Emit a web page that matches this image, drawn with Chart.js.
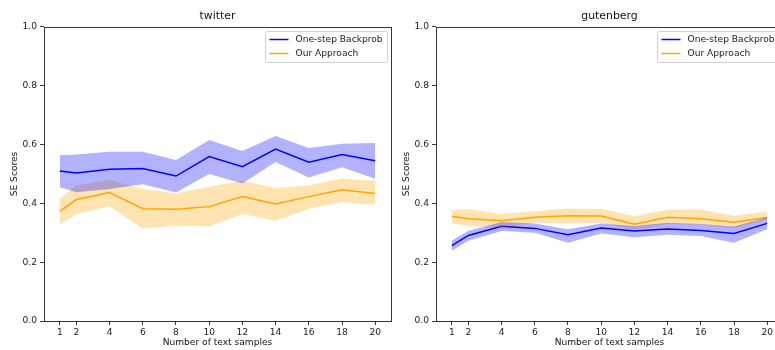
<!DOCTYPE html>
<html>
<head>
<meta charset="utf-8">
<script src="https://cdn.jsdelivr.net/npm/chart.js@4.4.1/dist/chart.umd.min.js"></script>
<style>
  html, body { margin: 0; padding: 0; background: #fff; overflow: hidden; width: 775px; height: 350px; }
  .panel { position: absolute; top: 0; width: 400px; height: 350px; }
  #leftPanel { left: 0; }
  #rightPanel { left: 392px; }
  canvas { display: block; }
</style>
</head>
<body>
<div class="panel" id="leftPanel"><canvas id="twitterChart" width="400" height="350"></canvas></div>
<div class="panel" id="rightPanel"><canvas id="gutenbergChart" width="400" height="350"></canvas></div>
<script>
// Number of text samples on the x axis
const xSamples = [1, 2, 4, 6, 8, 10, 12, 14, 16, 18, 20];
const yTicks = [0, 0.2, 0.4, 0.6, 0.8, 1.0];

// twitter: One-step Backprob (mean and band)
const twBackpropMean = [0.510, 0.503, 0.516, 0.519, 0.493, 0.559, 0.525, 0.585, 0.540, 0.566, 0.545];
const twBackpropHigh = [0.564, 0.566, 0.576, 0.576, 0.548, 0.616, 0.578, 0.629, 0.588, 0.603, 0.605];
const twBackpropLow  = [0.455, 0.438, 0.449, 0.465, 0.437, 0.500, 0.468, 0.541, 0.488, 0.523, 0.484];
// twitter: Our Approach
const twOursMean = [0.373, 0.413, 0.437, 0.382, 0.380, 0.389, 0.423, 0.398, 0.423, 0.446, 0.434];
const twOursHigh = [0.416, 0.460, 0.480, 0.448, 0.434, 0.457, 0.477, 0.452, 0.461, 0.485, 0.476];
const twOursLow  = [0.328, 0.363, 0.390, 0.315, 0.324, 0.321, 0.364, 0.341, 0.382, 0.405, 0.396];

// gutenberg: One-step Backprob
const gbBackpropMean = [0.256, 0.291, 0.322, 0.315, 0.293, 0.316, 0.306, 0.313, 0.308, 0.298, 0.332];
const gbBackpropHigh = [0.273, 0.307, 0.337, 0.332, 0.312, 0.332, 0.323, 0.334, 0.330, 0.321, 0.353];
const gbBackpropLow  = [0.239, 0.273, 0.306, 0.300, 0.266, 0.298, 0.285, 0.293, 0.289, 0.266, 0.312];
// gutenberg: Our Approach
const gbOursMean = [0.356, 0.348, 0.341, 0.353, 0.358, 0.357, 0.329, 0.353, 0.348, 0.336, 0.352];
const gbOursHigh = [0.378, 0.380, 0.364, 0.373, 0.383, 0.381, 0.357, 0.378, 0.378, 0.358, 0.373];
const gbOursLow  = [0.332, 0.323, 0.319, 0.334, 0.332, 0.334, 0.310, 0.330, 0.327, 0.315, 0.345];

const FONT = 'DejaVu Sans';
const TEXT_SIZE = 9.1;
const TITLE_SIZE = 10.9;
const BLUE = '#0000ff';
const ORANGE = '#ffa500';
const BLUE_FILL = 'rgba(0,0,255,0.3)';
const ORANGE_FILL = 'rgba(255,165,0,0.3)';

const toPoints = ys => ys.map((y, i) => ({ x: xSamples[i], y }));

function band(high, low, fillColor) {
  return [
    { data: toPoints(high), fill: '+1', backgroundColor: fillColor, borderWidth: 0, pointRadius: 0, tension: 0 },
    { data: toPoints(low), fill: false, borderWidth: 0, pointRadius: 0, tension: 0 }
  ];
}

function meanLine(label, ys, color) {
  return { label, inLegend: true, data: toPoints(ys), borderColor: color, borderWidth: 1.5,
           fill: false, pointRadius: 0, tension: 0 };
}

// Axes frame on all four sides plus a framed legend in the upper-right corner
const frameAndLegend = {
  id: 'frameAndLegend',
  afterDatasetsDraw(chart) {
    const { ctx, chartArea: a } = chart;
    ctx.save();
    ctx.strokeStyle = '#222';
    ctx.lineWidth = 0.9;
    const l = Math.round(a.left) + 0.5, r = Math.round(a.right) + 0.5;
    const t = Math.round(a.top) + 0.5, b = Math.round(a.bottom) + 0.5;
    ctx.strokeRect(l, t, r - l, b - t);
    ctx.restore();
  },
  afterDraw(chart) {
    const { ctx, chartArea: a } = chart;
    const items = chart.data.datasets.filter(d => d.inLegend);
    const w = 122, h = 31;
    const x0 = Math.round(a.right) - 126 + 0.5;
    const y0 = Math.round(a.top) + 4 + 0.5;
    ctx.save();
    ctx.beginPath();
    ctx.roundRect(x0, y0, w, h, 2);
    ctx.fillStyle = 'rgba(255,255,255,0.8)';
    ctx.fill();
    ctx.strokeStyle = '#d0d0d0';
    ctx.lineWidth = 1;
    ctx.stroke();
    ctx.font = TEXT_SIZE + 'px "' + FONT + '"';
    ctx.textBaseline = 'middle';
    ctx.textAlign = 'left';
    items.forEach((d, i) => {
      const yy = y0 + 8 + i * 14;
      ctx.strokeStyle = d.borderColor;
      ctx.lineWidth = 1.5;
      ctx.beginPath();
      ctx.moveTo(x0 + 4, yy);
      ctx.lineTo(x0 + 23, yy);
      ctx.stroke();
      ctx.fillStyle = '#222';
      ctx.fillText(d.label, x0 + 30, yy + 0.5);
    });
    ctx.restore();
  }
};

function makeChart(canvasId, title, s) {
  const tickFont = { family: FONT, size: TEXT_SIZE };
  return new Chart(document.getElementById(canvasId), {
    type: 'line',
    data: {
      datasets: [
        ...band(s.bpHigh, s.bpLow, BLUE_FILL),
        ...band(s.oursHigh, s.oursLow, ORANGE_FILL),
        meanLine('One-step Backprob', s.bpMean, BLUE),
        meanLine('Our Approach', s.oursMean, ORANGE)
      ]
    },
    options: {
      responsive: false,
      animation: false,
      events: [],
      layout: { padding: { left: 0, right: 9, top: 0, bottom: 0 } },
      plugins: {
        legend: { display: false },
        tooltip: { enabled: false },
        title: {
          display: true, text: title, color: '#111', fullSize: false,
          font: { family: FONT, size: TITLE_SIZE, weight: 'normal' },
          padding: { top: 9.5, bottom: 4.4 }
        }
      },
      scales: {
        x: {
          type: 'linear', min: 0.05, max: 20.95,
          afterBuildTicks: sc => { sc.ticks = xSamples.map(v => ({ value: v })); },
          afterFit: sc => { sc.height = 29; },
          grid: { display: true, drawOnChartArea: false, drawTicks: true, tickLength: 4, color: '#222', lineWidth: 0.9 },
          border: { display: false },
          ticks: { color: '#222', font: tickFont, padding: 2, maxRotation: 0, autoSkip: false },
          title: { display: true, text: 'Number of text samples', color: '#111', font: tickFont, padding: { top: 0, bottom: 1.5 } }
        },
        y: {
          min: 0, max: 1,
          afterBuildTicks: sc => { sc.ticks = yTicks.map(v => ({ value: v })); },
          afterFit: sc => { sc.width = 44; },
          grid: { display: true, drawOnChartArea: false, drawTicks: true, tickLength: 4, color: '#222', lineWidth: 0.9 },
          border: { display: false },
          ticks: { color: '#222', font: tickFont, padding: 3, callback: v => v.toFixed(1) },
          title: { display: true, text: 'SE Scores', color: '#111', font: tickFont, padding: { top: 9 } }
        }
      }
    },
    plugins: [frameAndLegend]
  });
}

makeChart('twitterChart', 'twitter', {
  bpMean: twBackpropMean, bpHigh: twBackpropHigh, bpLow: twBackpropLow,
  oursMean: twOursMean, oursHigh: twOursHigh, oursLow: twOursLow
});
makeChart('gutenbergChart', 'gutenberg', {
  bpMean: gbBackpropMean, bpHigh: gbBackpropHigh, bpLow: gbBackpropLow,
  oursMean: gbOursMean, oursHigh: gbOursHigh, oursLow: gbOursLow
});
</script>
</body>
</html>
